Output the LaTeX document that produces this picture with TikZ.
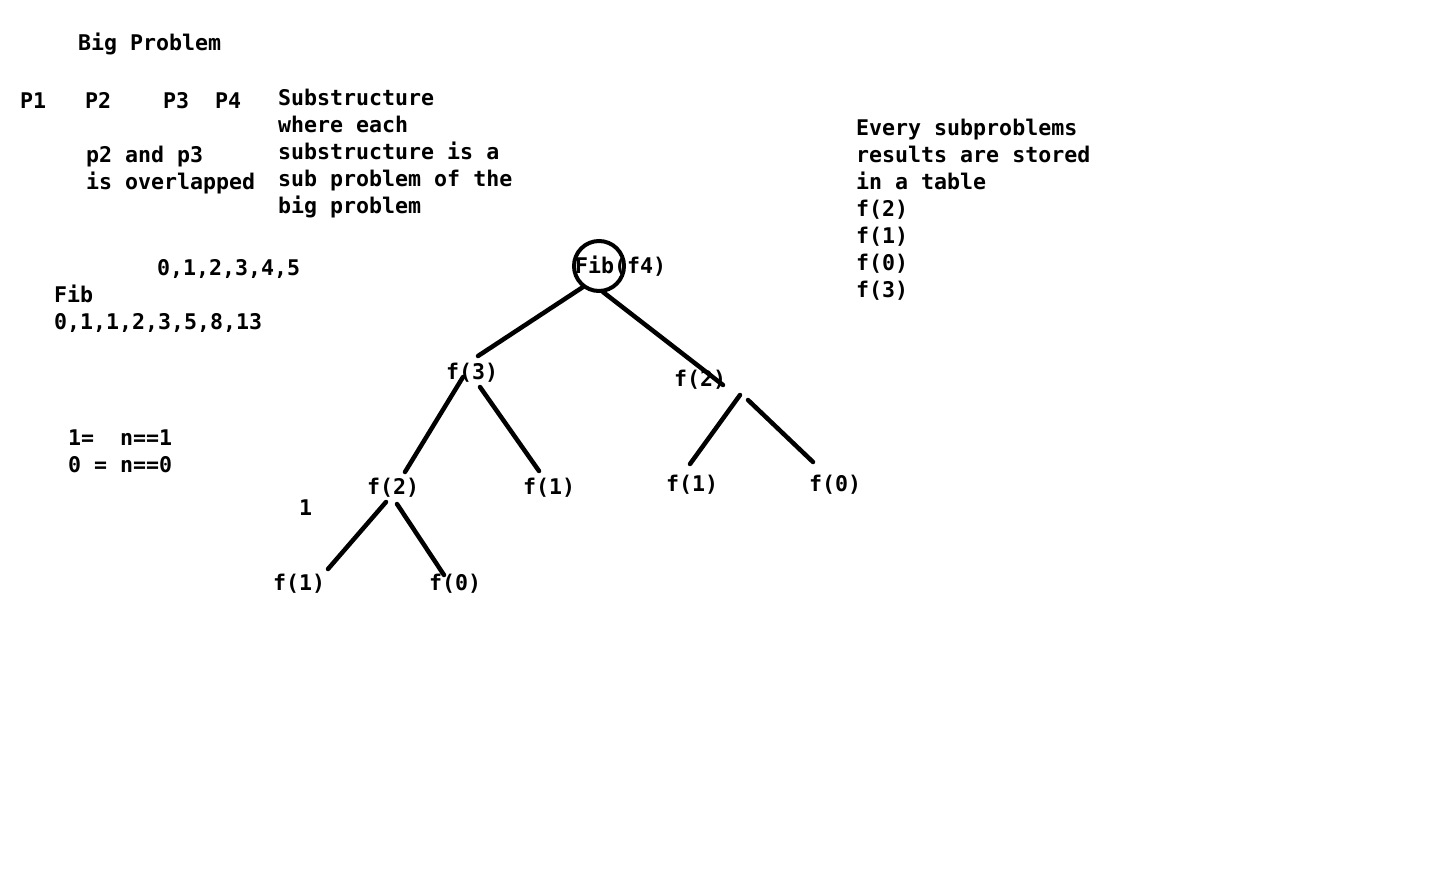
\documentclass[tikz,border=0pt]{standalone}
\usepackage{fontspec}
\newfontfamily\consfont{DejaVu Sans Mono}
\tikzset{
  txt/.style={anchor=base west, inner sep=0pt, font=\consfont\bfseries\fontsize{21.6}{27}\selectfont},
  edge/.style={line width=4.5pt, line cap=round, black},
}
\begin{document}
\begin{tikzpicture}[x=1pt,y=-1pt]
\useasboundingbox[fill=white] (0,0) rectangle (1450,868);
% top-left texts
\node[txt] (big) at (78,50) {Big Problem};
\node[txt] (p1) at (20,108) {P1};
\node[txt] (p2) at (85,108) {P2};
\node[txt] (p3) at (163,108) {P3};
\node[txt] (p4) at (215,108) {P4};
\node[txt] (ov1) at (86,162) {p2 and p3};
\node[txt] (ov2) at (86,189) {is overlapped};
\node[txt] (s1) at (278,105) {Substructure};
\node[txt] (s2) at (278,132) {where each};
\node[txt] (s3) at (278,159) {substructure is a};
\node[txt] (s4) at (278,186) {sub problem of the};
\node[txt] (s5) at (278,213) {big problem};
\node[txt] (seq) at (157,275) {0,1,2,3,4,5};
\node[txt] (fib) at (54,302) {Fib};
\node[txt] (fibseq) at (54,329) {0,1,1,2,3,5,8,13};
\node[txt] (b1) at (68,445) {1=~~n==1};
\node[txt] (b0) at (68,472) {0~=~n==0};
% right texts
\node[txt] (e1) at (856,135) {Every subproblems};
\node[txt] (e2) at (856,162) {results are stored};
\node[txt] (e3) at (856,189) {in a table};
\node[txt] (e4) at (856,216) {f(2)};
\node[txt] (e5) at (856,243) {f(1)};
\node[txt] (e6) at (856,270) {f(0)};
\node[txt] (e7) at (856,297) {f(3)};
% tree nodes
\node[txt] (root) at (575,273) {Fib(f4)};
\node[txt] (f3) at (446,379) {f(3)};
\node[txt] (f2r) at (674,386) {f(2)};
\node[txt] (f2l) at (367,494) {f(2)};
\node[txt] (f1m) at (523,494) {f(1)};
\node[txt] (f1r) at (666,491) {f(1)};
\node[txt] (f0r) at (809,491) {f(0)};
\node[txt] (f1b) at (273,590) {f(1)};
\node[txt] (f0b) at (429,590) {f(0)};
\node[txt] (one) at (299,515) {1};
% circle around root
\node[draw, circle, line width=4pt, minimum size=50pt, inner sep=0pt] (ring) at (599,266) {};
% connector end points
\coordinate (a1) at (583,287); \coordinate (a2) at (478,356);
\coordinate (b1s) at (603,292); \coordinate (b2) at (723,385);
\coordinate (c1) at (463,377); \coordinate (c2) at (405,472);
\coordinate (d1) at (480,387); \coordinate (d2) at (539,471);
\coordinate (g1) at (740,395); \coordinate (g2) at (690,464);
\coordinate (h1) at (748,400); \coordinate (h2) at (813,462);
\coordinate (k1) at (386,502); \coordinate (k2) at (328,569);
\coordinate (m1) at (397,504); \coordinate (m2) at (444,575);
\draw[edge] (a1) -- (a2);
\draw[edge] (b1s) -- (b2);
\draw[edge] (c1) -- (c2);
\draw[edge] (d1) -- (d2);
\draw[edge] (g1) -- (g2);
\draw[edge] (h1) -- (h2);
\draw[edge] (k1) -- (k2);
\draw[edge] (m1) -- (m2);
\end{tikzpicture}
\end{document}
